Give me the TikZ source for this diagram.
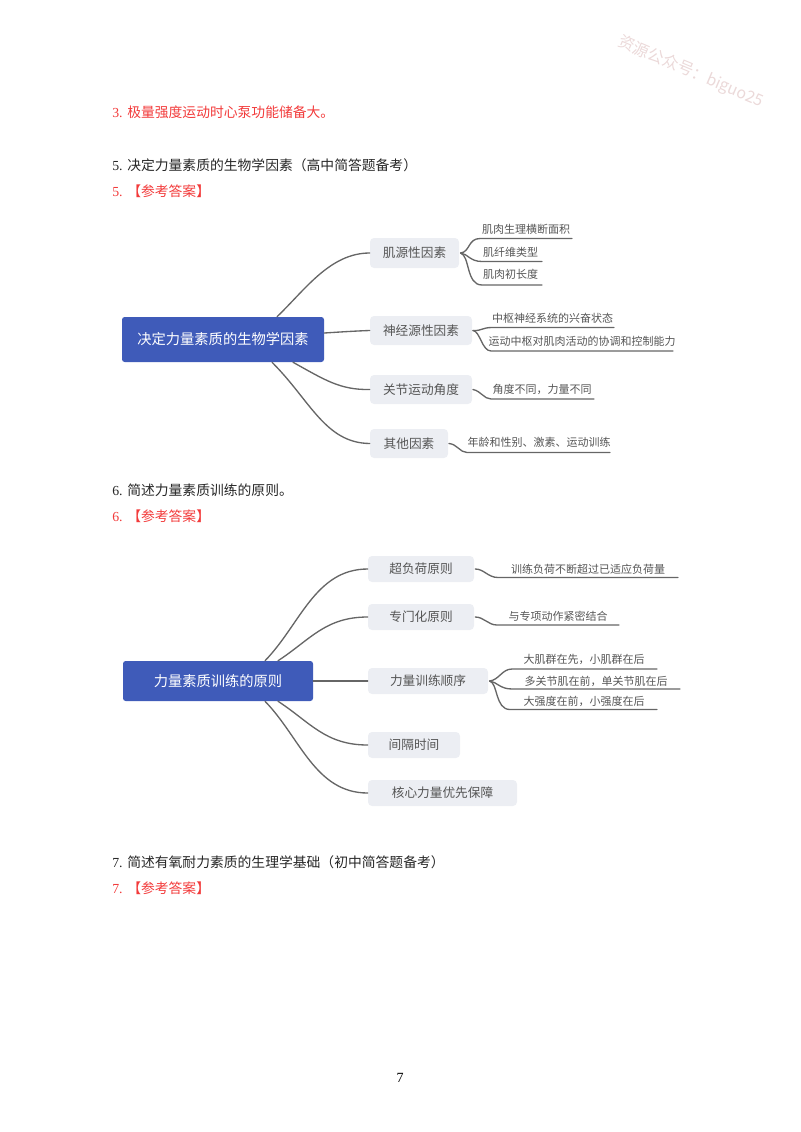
\documentclass[tikz,border=0pt]{standalone}
\usepackage{fontspec}
\setmainfont{Liberation Serif}
\newfontfamily\cjk{Noto Sans CJK SC}
\definecolor{rootblue}{HTML}{3F5BB9}
\definecolor{boxgrey}{HTML}{ECEEF3}
\definecolor{linegrey}{HTML}{666666}
\definecolor{txtgrey}{HTML}{555555}
\definecolor{redtxt}{HTML}{F23A3A}
\definecolor{wmark}{HTML}{EBD9D9}
\newcommand{\lead}[1]{\makebox[11.25pt][l]{#1}}
\tikzset{
  x=0.75pt,y=-0.75pt,
  bodyline/.style={anchor=west,inner sep=0pt,font=\fontsize{10.35pt}{12pt}\selectfont\cjk,text=black!85},
  redline/.style={bodyline,text=redtxt},
  rootbox/.style={fill=rootblue,rounded corners=2pt,inner sep=0pt,text=white,font=\fontsize{10.7pt}{12pt}\selectfont\cjk},
  branch/.style={fill=boxgrey,rounded corners=3pt,inner sep=0pt,text=txtgrey,font=\fontsize{9.5pt}{12pt}\selectfont\cjk},
  leaf/.style={inner sep=0pt,text=txtgrey,font=\fontsize{8.25pt}{10pt}\selectfont\cjk},
  conn/.style={draw=linegrey,line width=1pt,line cap=round},
  watermark/.style={inner sep=0pt,text=wmark,rotate=-23,font=\fontsize{12pt}{14pt}\selectfont\cjk}
}
\begin{document}
\begin{tikzpicture}
\useasboundingbox (0,0) rectangle (800,1132);
\node[watermark] (wm) at (691,72) {资源公众号：biguo25};
% body text
\node[redline] (t3) at (112,112) {\lead{\rmfamily 3.}极量强度运动时心泵功能储备大。};
\node[bodyline] (q5) at (112,165) {\lead{\rmfamily 5.}决定力量素质的生物学因素（高中简答题备考）};
\node[redline] (a5) at (112,191) {\lead{\rmfamily 5.}【参考答案】};
\node[bodyline] (q6) at (112,490) {\lead{\rmfamily 6.}简述力量素质训练的原则。};
\node[redline] (a6) at (112,516) {\lead{\rmfamily 6.}【参考答案】};
\node[bodyline] (q7) at (112,862) {\lead{\rmfamily 7.}简述有氧耐力素质的生理学基础（初中简答题备考）};
\node[redline] (a7) at (112,888) {\lead{\rmfamily 7.}【参考答案】};
\node[inner sep=0pt,font=\fontsize{10.5pt}{12pt}\selectfont] (pg) at (400,1078) {7};

% ---------- diagram 1
\node[rootbox,minimum width=151.5pt,minimum height=33.75pt] (A) at (223,339.5) {\raisebox{0.8pt}{决定力量素质的生物学因素}};
\node[branch,minimum width=66.75pt,minimum height=22.5pt] (A1) at (414.5,253) {\raisebox{1pt}{肌源性因素}};
\node[branch,minimum width=76.5pt,minimum height=21.75pt] (A2) at (421,330.5) {\raisebox{1pt}{神经源性因素}};
\node[branch,minimum width=76.5pt,minimum height=21.75pt] (A3) at (421,389.5) {关节运动角度};
\node[branch,minimum width=58.5pt,minimum height=21.75pt] (A4) at (409,443.5) {\raisebox{1pt}{其他因素}};
\draw[conn] ([xshift=40.5pt]A.north) .. controls (305,290) and (330,253) .. (A1.west);
\draw[conn] (A.east |- 0,333) .. controls (340,332) and (355,331) .. (A2.west);
\draw[conn] ([xshift=52.5pt]A.south) .. controls (325,380) and (340,390) .. (A3.west);
\draw[conn] ([xshift=36.75pt]A.south) .. controls (310,400) and (325,443) .. (A4.west);

\node[leaf] (a11) at (526,229) {肌肉生理横断面积};
\node[leaf] (a12) at (510.5,252) {肌纤维类型};
\node[leaf] (a13) at (510.5,274) {肌肉初长度};
\node[leaf] (a21) at (552.5,318) {中枢神经系统的兴奋状态};
\node[leaf] (a22) at (582,341) {运动中枢对肌肉活动的协调和控制能力};
\node[leaf] (a31) at (542,389) {角度不同，力量不同};
\node[leaf] (a41) at (539,442) {年龄和性别、激素、运动训练};
\coordinate (a11e) at (572,238.5);
\coordinate (a12e) at (542,261.5);
\coordinate (a13e) at (542,285);
\coordinate (a21e) at (614,327.5);
\coordinate (a22e) at (673,351);
\coordinate (a31e) at (594,399);
\coordinate (a41e) at (610,452.5);
\draw[conn] ([xshift=1pt]A1.east) .. controls (470,252) and (468,238.5) .. (480,238.5) -- (a11e);
\draw[conn] ([xshift=1pt]A1.east) .. controls (468,254) and (470,261.5) .. (482,261.5) -- (a12e);
\draw[conn] ([xshift=1pt]A1.east) .. controls (470,256) and (466,285) .. (482,285) -- (a13e);
\draw[conn] ([xshift=0.5pt]A2.east) .. controls (482,331) and (482,327.5) .. (492,327.5) -- (a21e);
\draw[conn] ([xshift=0.5pt]A2.east) .. controls (480,331) and (482,351) .. (491,351) -- (a22e);
\draw[conn] ([xshift=0.5pt]A3.east) .. controls (481,391) and (484,399) .. (491,399) -- (a31e);
\draw[conn] ([xshift=0.5pt]A4.east) .. controls (457,444) and (460,452.5) .. (467,452.5) -- (a41e);

% ---------- diagram 2
\node[rootbox,minimum width=142.5pt,minimum height=30pt] (B) at (218,681) {力量素质训练的原则};
\node[branch,minimum width=79.5pt,minimum height=19.5pt] (B1) at (421,569) {超负荷原则};
\node[branch,minimum width=79.5pt,minimum height=19.5pt] (B2) at (421,617) {\raisebox{0.7pt}{专门化原则}};
\node[branch,minimum width=90pt,minimum height=19.5pt] (B3) at (428,681) {力量训练顺序};
\node[branch,minimum width=69pt,minimum height=19.5pt] (B4) at (414,745) {间隔时间};
\node[branch,minimum width=111.75pt,minimum height=19.5pt] (B5) at (442.5,793) {核心力量优先保障};
\draw[conn] ([xshift=35.25pt]B.north) .. controls (300,625) and (315,569) .. (B1.west);
\draw[conn] ([xshift=45pt]B.north) .. controls (310,640) and (325,617) .. (B2.west);
\draw[conn] (B.east) -- (B3.west);
\draw[conn] ([xshift=45pt]B.south) .. controls (310,722) and (325,745) .. (B4.west);
\draw[conn] ([xshift=35.25pt]B.south) .. controls (300,737) and (315,793) .. (B5.west);

\node[leaf] (b11) at (588,569) {训练负荷不断超过已适应负荷量};
\node[leaf] (b21) at (558,616) {与专项动作紧密结合};
\node[leaf] (b31) at (584,659) {大肌群在先，小肌群在后};
\node[leaf] (b32) at (596,681) {多关节肌在前，单关节肌在后};
\node[leaf] (b33) at (584,701) {大强度在前，小强度在后};
\coordinate (b11e) at (678,577.5);
\coordinate (b21e) at (619,625);
\coordinate (b31e) at (657,669);
\coordinate (b32e) at (680,689);
\coordinate (b33e) at (657,709.5);
\draw[conn] ([xshift=0.75pt]B1.east) .. controls (484,569) and (488,577.5) .. (498,577.5) -- (b11e);
\draw[conn] ([xshift=0.75pt]B2.east) .. controls (484,617) and (488,625) .. (497,625) -- (b21e);
\draw[conn] ([xshift=1pt]B3.east) .. controls (499,680) and (502,669) .. (512,669) -- (b31e);
\draw[conn] ([xshift=1pt]B3.east) .. controls (497,682) and (500,689) .. (512,689) -- (b32e);
\draw[conn] ([xshift=1pt]B3.east) .. controls (498,683) and (495,709.5) .. (510,709.5) -- (b33e);
\end{tikzpicture}
\end{document}
